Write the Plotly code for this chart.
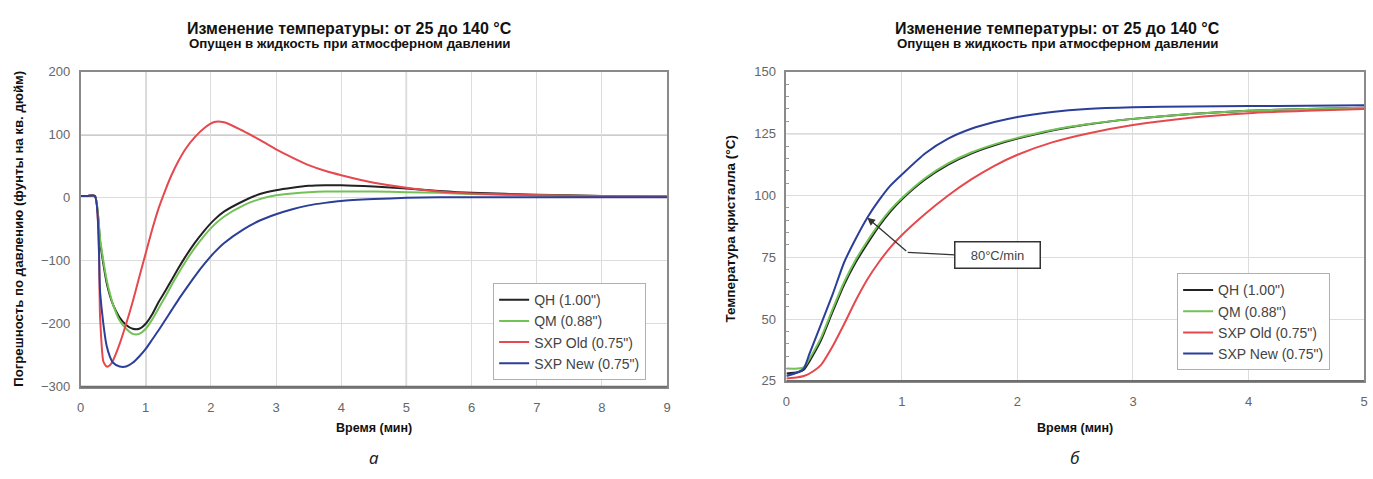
import plotly.graph_objects as go

# ---------------- data: left chart (pressure error) ----------------
t_left = [0, 0.1, 0.22, 0.3, 0.35, 0.4, 0.45, 0.5, 0.6, 0.7, 0.8, 0.9, 1.0, 1.1, 1.2, 1.3, 1.4, 1.5,
          1.6, 1.75, 1.9, 2.05, 2.2, 2.5, 2.75, 3.0, 3.25, 3.5, 3.75, 4.0, 4.5, 5.0, 5.5, 6.0, 7.0, 8.0, 9.0]
qh_p = [3, 3, 3, -70, -105, -135, -155, -170, -190, -202, -208, -208, -200, -185, -165, -148, -130, -112,
        -95, -72, -52, -35, -22, -5, 6, 12, 16, 19, 20, 20, 18, 15, 11, 8, 5, 3, 2]
qm_p = [3, 3, 3, -65, -100, -130, -152, -170, -195, -208, -216, -216, -208, -193, -175, -157, -138, -120,
        -103, -80, -60, -43, -30, -12, -2, 4, 7, 9, 10, 10, 10, 9, 8, 6, 4, 3, 2]
old_p = [3, 3, 3, -190, -260, -268, -266, -258, -232, -200, -165, -126, -88, -50, -16, 12, 37, 58,
         76, 96, 111, 120.5, 120, 106, 92, 77, 64, 52, 43, 36, 24, 16, 10, 7, 4, 3, 2]
new_p = [3, 3, 3, -150, -200, -235, -252, -262, -268, -268, -262, -252, -240, -225, -210, -194, -178, -162,
         -147, -125, -105, -87, -72, -50, -36, -26, -18, -12, -8, -5, -2, 0, 1, 1, 1, 1, 1]

# ---------------- data: right chart (crystal temperature) ----------------
t_right = [0, 0.1, 0.15, 0.2, 0.3, 0.4, 0.5, 0.6, 0.7, 0.8, 0.9, 1.0, 1.2, 1.4, 1.6, 1.8, 2.0, 2.3,
           2.6, 3.0, 3.5, 4.0, 4.5, 5.0]
qh_t = [28, 28.5, 29.5, 33, 41.5, 53, 64, 73, 80.5, 87.5, 93.5, 98.5, 106.5, 112.5, 117, 120.3, 123, 126.3,
        128.7, 131, 133, 134.3, 135, 135.5]
qm_t = [30, 30, 30.5, 34, 42.5, 54, 65, 74, 81.5, 88.3, 94.2, 99, 107, 113, 117.4, 120.7, 123.3, 126.5,
        128.8, 131, 133, 134.3, 135, 135.5]
old_t = [26, 26.5, 27, 28, 31.5, 39, 48, 57.5, 66, 73, 79, 84, 92.5, 100, 106.5, 112, 116.5, 121.5,
         125, 128.5, 131.5, 133.3, 134.3, 135]
new_t = [27, 28.5, 30, 36, 48, 60, 73, 82.5, 91, 98, 104, 108.5, 117, 123, 127, 129.7, 131.8, 133.8,
         135, 135.7, 136, 136.2, 136.3, 136.5]

series_names = ['QH (1.00")', 'QM (0.88")', 'SXP Old (0.75")', 'SXP New (0.75")']
series_colors = ['#222222', '#72c256', '#e5484d', '#2b3f99']

title_main = "Изменение температуры: от 25 до 140 °C"
title_sub = "Опущен в жидкость при атмосферном давлении"
x_title = "Время (мин)"
y_title_left = "Погрешность по давлению (фунты на кв. дюйм)"
y_title_right = "Температура кристалла (°C)"
arrow_label = "80°C/min"
arrow_point = (0.7, 91)

FONT = "Liberation Sans, Arial, sans-serif"

fig = go.Figure()
left_vals = [qh_p, qm_p, old_p, new_p]
right_vals = [qh_t, qm_t, old_t, new_t]
for name, col, ys in zip(series_names, series_colors, left_vals):
    fig.add_trace(go.Scatter(x=t_left, y=ys, mode="lines", name=name,
                             line=dict(color=col, width=2, shape="spline", smoothing=0.6),
                             xaxis="x", yaxis="y", legend="legend"))
for name, col, ys in zip(series_names, series_colors, right_vals):
    fig.add_trace(go.Scatter(x=t_right, y=ys, mode="lines", name=name,
                             line=dict(color=col, width=2, shape="spline", smoothing=0.6),
                             xaxis="x2", yaxis="y2", legend="legend2"))

W, H = 1373, 479
def px(x): return x / W
def py(y): return 1 - y / H

axis_common = dict(showline=True, mirror=True, linecolor="#8a8a8a", linewidth=1.5,
                   showgrid=True, gridcolor="#dcdcdc", gridwidth=1, zeroline=False,
                   ticks="", tickfont=dict(family=FONT, size=13, color="#666666"),
                   fixedrange=True)

legend_common = dict(xanchor="left", yanchor="top", bgcolor="white", bordercolor="#b0b0b0",
                     borderwidth=1, font=dict(family=FONT, size=14, color="#444444"),
                     itemwidth=30, tracegroupgap=0)

fig.update_layout(
    width=W, height=H, margin=dict(l=0, r=0, t=0, b=0),
    paper_bgcolor="white", plot_bgcolor="white",
    font=dict(family=FONT),
    xaxis=dict(domain=[px(77), px(667)], range=[0, 9], dtick=1, anchor="y",
               ticklabelstandoff=8, **axis_common),
    yaxis=dict(domain=[py(392), py(67)], range=[-300, 200], dtick=100, anchor="x",
               ticklabelstandoff=6, **axis_common),
    xaxis2=dict(domain=[px(787), px(1368)], range=[0, 5], dtick=1, anchor="y2",
                ticklabelstandoff=8, **axis_common),
    yaxis2=dict(domain=[py(386), py(67)], range=[25, 150], dtick=25, anchor="x2",
                ticklabelstandoff=6,
                minor=dict(dtick=5, ticks="inside", ticklen=3, tickcolor="#999999", showgrid=False),
                **axis_common),
    legend=dict(x=px(492), y=py(285), **legend_common),
    legend2=dict(x=px(1180), y=py(275), **legend_common),
)

# darker reference grid lines
for xv in [1, 5]:
    fig.add_shape(type="line", xref="x", yref="paper", x0=xv, x1=xv, y0=py(392), y1=py(67),
                  line=dict(color="#9a9a9a", width=1.3), layer="below")
fig.add_shape(type="line", xref="paper", yref="y", x0=px(77), x1=px(667), y0=100, y1=100,
              line=dict(color="#9a9a9a", width=1.3), layer="below")
fig.add_shape(type="line", xref="paper", yref="y2", x0=px(787), x1=px(1368), y0=125, y1=125,
              line=dict(color="#9a9a9a", width=1.3), layer="below")
# darker bottom frame edges
fig.add_shape(type="line", xref="paper", yref="paper", x0=px(77), x1=px(667), y0=py(392), y1=py(392),
              line=dict(color="#6e6e6e", width=2))
fig.add_shape(type="line", xref="paper", yref="paper", x0=px(787), x1=px(1368), y0=py(386), y1=py(386),
              line=dict(color="#6e6e6e", width=2))

def text_ann(text, x, y, size, family=FONT, color="#111111", angle=0):
    return dict(text=text, x=px(x), y=py(y), xref="paper", yref="paper",
                xanchor="center", yanchor="middle", textangle=angle, showarrow=False,
                font=dict(family=family, size=size, color=color))

ann = []
for cx in [348, 1060]:
    ann.append(text_ann(f"<b>{title_main}</b>", cx, 22, 16))
    ann.append(text_ann(f"<b>{title_sub}</b>", cx, 38, 13.3))
for cx, lab in [(372, "а"), (1077, "б")]:
    ann.append(text_ann(f"<b>{x_title}</b>", cx, 435, 12.5))
    ann.append(text_ann(f"<i>{lab}</i>", cx, 465, 17, family="Noto Sans, sans-serif", color="#222222"))
ann.append(text_ann(f"<b>{y_title_left}</b>", 15, 229, 13.2, angle=-90))
ann.append(text_ann(f"<b>{y_title_right}</b>", 731, 229, 13.5, angle=-90))
# arrow label box
ann.append(dict(text=arrow_label, x=1.83, y=76, xref="x2", yref="y2", showarrow=False,
                xanchor="center", yanchor="middle", width=72, height=13,
                font=dict(family=FONT, size=13, color="#444444"),
                bordercolor="#333333", borderwidth=1.5, borderpad=6, bgcolor="white"))
ann.append(dict(text="", x=arrow_point[0], y=arrow_point[1], xref="x2", yref="y2",
                ax=1.05, ay=77, axref="x2", ayref="y2", showarrow=True,
                arrowhead=2, arrowsize=1.2, arrowwidth=1.3, arrowcolor="#333333"))
fig.update_layout(annotations=ann)
fig.add_shape(type="line", xref="x2", yref="y2", x0=1.05, y0=77, x1=1.46, y1=76,
              line=dict(color="#333333", width=1.3))

fig.write_html("out.html")
